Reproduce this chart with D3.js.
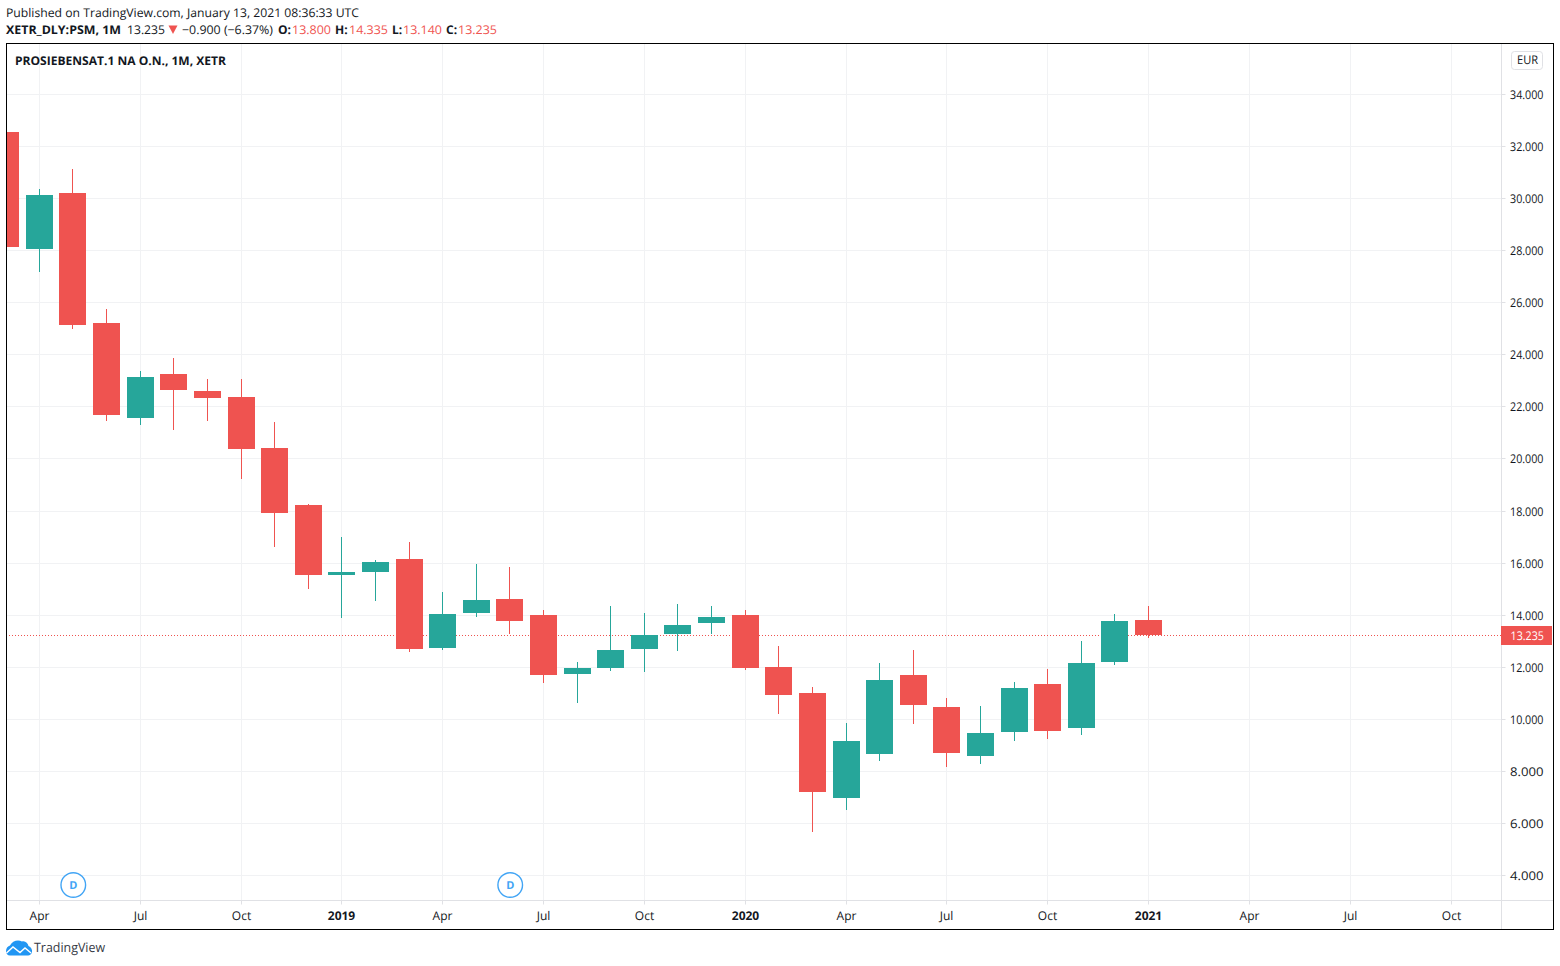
<!DOCTYPE html>
<html><head><meta charset="utf-8">
<script src="https://cdn.jsdelivr.net/npm/d3@7"></script>
<style>html,body{margin:0;background:#fff}svg{display:block}text{font-family:"Open Sans",sans-serif;fill:#131722;text-rendering:geometricPrecision}</style>
</head><body><svg id="c" width="1560" height="966"></svg>
<script>
// month labels, index 0 = Mar 2018
const months=["Mar 18","Apr 18","May 18","Jun 18","Jul 18","Aug 18","Sep 18","Oct 18","Nov 18","Dec 18","Jan 19","Feb 19","Mar 19","Apr 19","May 19","Jun 19","Jul 19","Aug 19","Sep 19","Oct 19","Nov 19","Dec 19","Jan 20","Feb 20","Mar 20","Apr 20","May 20","Jun 20","Jul 20","Aug 20","Sep 20","Oct 20","Nov 20","Dec 20","Jan 21"];
const opens =[32.56,28.06,30.21,25.22,21.57,23.26,22.61,22.38,20.42,18.23,15.54,15.66,16.16,12.74,14.09,14.62,14.01,11.74,11.97,12.70,13.28,13.70,14.01,12.01,11.01,6.98,8.67,11.70,10.48,8.59,9.52,11.36,9.67,12.20,13.800];
const highs =[32.60,30.37,31.14,25.76,23.38,23.88,23.07,23.07,21.42,18.27,17.00,16.12,16.81,14.89,15.97,15.85,14.20,12.20,14.35,14.09,14.43,14.35,14.20,12.82,11.24,9.86,12.17,12.66,10.82,10.52,11.44,11.94,13.01,14.05,14.335];
const lows  =[28.10,27.18,24.99,21.46,21.30,21.11,21.46,19.23,16.62,15.01,13.89,14.55,12.59,12.66,13.93,13.28,11.40,10.63,11.86,11.82,12.63,13.28,11.90,10.21,5.68,6.52,8.40,9.82,8.17,8.28,9.17,9.25,9.40,12.09,13.140];
const closes=[28.14,30.14,25.145,21.69,23.15,22.65,22.34,20.38,17.93,15.54,15.66,16.04,12.70,14.05,14.58,13.78,11.70,11.97,12.66,13.24,13.62,13.93,11.97,10.94,7.21,9.17,11.51,10.55,8.71,9.48,11.21,9.56,12.17,13.78,13.235];
const priceTicks=[34,32,30,28,26,24,22,20,18,16,14,12,10,8,6,4];
const timeTickIdx=[1,4,7,10,13,16,19,22,25,28,31,34,37,40,43];
const timeTickLabels=["Apr","Jul","Oct","2019","Apr","Jul","Oct","2020","Apr","Jul","Oct","2021","Apr","Jul","Oct"];
const dividendIdx=[2,15];
const lastPrice=13.235;

const RED="#ef5350",GREEN="#26a69a",GRID="#f1f2f4",AXIS="#e0e1e5";
const L=6,T=43,R=1553,B=929,PR=1501,TB=900;
const svg=d3.select("#c");
const x=d3.scaleLinear().domain([1,34]).range([39.38,1148.51]);
const y=d3.scaleLinear().domain([32,6]).range([146.5,823.5]);
const cx=v=>Math.floor(x(v))+.5, cy=v=>Math.floor(y(v))+.5;

svg.append("defs").append("clipPath").attr("id","pane").append("rect").attr("x",L+.5).attr("y",T+.5).attr("width",PR-L).attr("height",TB-T);

// grid
const grid=svg.append("g").attr("stroke",GRID).attr("stroke-width",1);
grid.selectAll(".h").data(priceTicks).join("line").attr("x1",L).attr("x2",PR).attr("y1",cy).attr("y2",cy);
grid.selectAll(".v").data(timeTickIdx).join("line").attr("y1",T).attr("y2",TB).attr("x1",cx).attr("x2",cx);

// last price dotted line
svg.append("line").attr("x1",L).attr("x2",PR).attr("y1",cy(lastPrice)).attr("y2",cy(lastPrice))
  .attr("stroke",RED).attr("stroke-dasharray","1 2");

// candles
const idx=d3.range(months.length);
const g=svg.append("g").attr("clip-path","url(#pane)");
const col=i=>closes[i]>=opens[i]?GREEN:RED;
g.selectAll(".w").data(idx).join("line").attr("x1",cx).attr("x2",cx)
  .attr("y1",i=>Math.round(y(highs[i]))).attr("y2",i=>Math.round(y(lows[i]))).attr("stroke",col).attr("stroke-width",1);
g.selectAll(".b").data(idx).join("rect")
  .attr("x",i=>Math.floor(x(i))-13).attr("width",27)
  .attr("y",i=>Math.round(y(Math.max(opens[i],closes[i]))))
  .attr("height",i=>Math.max(1,Math.round(y(Math.min(opens[i],closes[i])))-Math.round(y(Math.max(opens[i],closes[i])))))
  .attr("fill",col);

// dividend markers
const dm=svg.append("g").selectAll("g").data(dividendIdx).join("g").attr("transform",i=>`translate(${x(i)+.3},885)`);
dm.append("circle").attr("r",12.3).attr("fill","#fff").attr("stroke","#42a5f5").attr("stroke-width",1.4);
dm.append("text").attr("text-anchor","middle").attr("y",4).attr("font-size",11).attr("font-weight",700).style("fill","#42a5f5").text("D");

// axes
const ay=svg.append("g").attr("transform",`translate(${PR+.5},0)`)
  .call(d3.axisRight(y).tickValues(priceTicks).tickFormat(d3.format(".3f")).tickSize(4).tickPadding(4).offset(0));
ay.select(".domain").remove();
ay.selectAll(".tick").attr("transform",d=>`translate(0,${cy(d)})`);
ay.selectAll("line").attr("stroke",AXIS);
ay.selectAll("text").attr("font-size",12).attr("dy",null).attr("y",4).attr("x",8.5).attr("textLength",33.5).attr("lengthAdjust","spacingAndGlyphs");
svg.append("line").attr("x1",PR+.5).attr("x2",PR+.5).attr("y1",T).attr("y2",B).attr("stroke",AXIS);

const ax=svg.append("g").attr("transform",`translate(0,${TB+.5})`)
  .call(d3.axisBottom(x).tickValues(timeTickIdx).tickFormat((d,i)=>timeTickLabels[i]).tickSize(4).tickPadding(0).offset(0));
ax.select(".domain").remove();
ax.selectAll(".tick").attr("transform",d=>`translate(${cx(d)},0)`);
ax.selectAll("line").attr("stroke",AXIS);
ax.selectAll("text").attr("font-size",12).attr("dy",null).attr("y",19)
  .attr("font-weight",(d,i)=>/^\d/.test(timeTickLabels[i])?700:400);
svg.append("line").attr("x1",L).attr("x2",R).attr("y1",TB+.5).attr("y2",TB+.5).attr("stroke",AXIS);

// last price label
svg.append("rect").attr("x",PR).attr("y",cy(lastPrice)-9.5).attr("width",51).attr("height",19).attr("fill",RED);
svg.append("text").attr("x",PR+9.5).attr("y",cy(lastPrice)+4).attr("font-size",12).attr("textLength",33.5).attr("lengthAdjust","spacingAndGlyphs").style("fill","#fff").text(d3.format(".3f")(lastPrice));

// frame
svg.append("rect").attr("x",L+.5).attr("y",T+.5).attr("width",R-L).attr("height",B-T).attr("fill","none").attr("stroke","#000");

// currency
svg.append("rect").attr("x",1511.5).attr("y",51.5).attr("width",31).attr("height",18).attr("rx",3).attr("fill","#fff").attr("stroke",AXIS);
svg.append("text").attr("x",1517).attr("y",64).attr("font-size",12).attr("textLength",21).attr("lengthAdjust","spacingAndGlyphs").text("EUR");

// texts
const txt=(xx,yy,s,o={})=>{const t=svg.append("text").attr("x",xx).attr("y",yy).attr("font-size",o.size||12).attr("font-weight",o.w||400).style("fill",o.c||"#131722").text(s);
  if(o.len)t.attr("textLength",o.len).attr("lengthAdjust","spacingAndGlyphs");return t;};
txt(6,17,"Published on TradingView.com, January 13, 2021 08:36:33 UTC",{len:353});
txt(6,34,"XETR_DLY:PSM, 1M",{w:700,len:115});
txt(127,34,"13.235",{len:38});
svg.append("path").attr("d","M168.5 25.5L177.5 25.5L173 34Z").attr("fill",RED);
txt(182,34,"−0.900 (−6.37%)",{len:91});
txt(278,34,"O:",{w:700});txt(292,34,"13.800",{c:RED,len:39});
txt(335,34,"H:",{w:700});txt(349,34,"14.335",{c:RED,len:39});
txt(392,34,"L:",{w:700});txt(403,34,"13.140",{c:RED,len:39});
txt(446,34,"C:",{w:700});txt(458,34,"13.235",{c:RED,len:39});
txt(15,65,"PROSIEBENSAT.1 NA O.N., 1M, XETR",{w:700,len:211});

// logo
svg.append("path").attr("fill","#2196f3").attr("d","M6 951 C6 948 8 946 10 945.5 C12 941 18 939 22 941.5 C25 940.5 28 943 28.5 946 C31 947 32.5 949.5 32 952 C31.5 954 30 955.5 28 955.5 L10 955.5 C7.5 955.5 6 953.5 6 951Z");
svg.append("path").attr("fill","none").attr("stroke","#fff").attr("stroke-width",1.4).attr("d","M6.5 953 L13 947 L20 952.5 L25 948 L31 953");
txt(34,952,"TradingView",{size:13,c:"#363a45",len:71});
</script></body></html>
